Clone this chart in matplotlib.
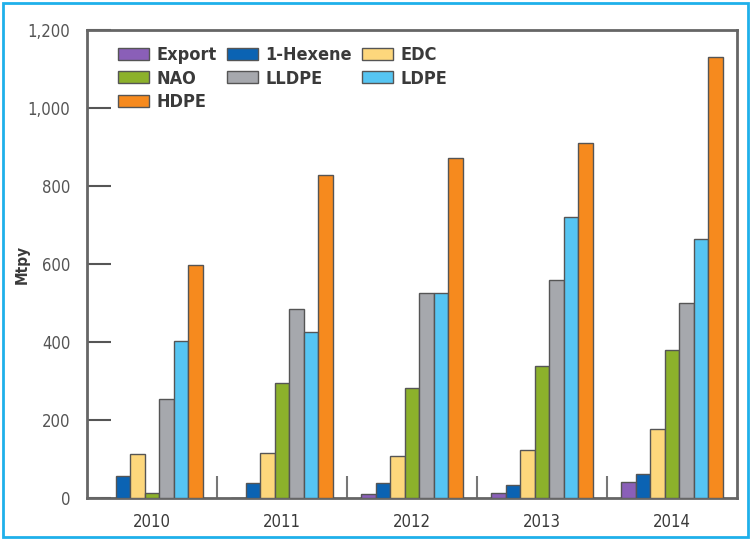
import matplotlib
matplotlib.use("Agg")
import matplotlib.pyplot as plt
from matplotlib.patches import Rectangle
import numpy as np

plt.rcParams['font.family'] = ['DejaVu Sans']
plt.rcParams['font.stretch'] = 'condensed'

years = ["2010", "2011", "2012", "2013", "2014"]
export = [0, 0, 10, 12, 41]
hexene = [56, 39, 39, 34, 62]
edc = [113, 115, 108, 123, 177]
nao = [12, 296, 283, 339, 380]
lldpe = [255, 484, 525, 558, 500]
ldpe = [403, 425, 525, 721, 665]
hdpe = [598, 828, 871, 911, 1132]

series = [
    ("Export", export, "#8a5fb8"),
    ("1-Hexene", hexene, "#0b63b3"),
    ("EDC", edc, "#fdd77c"),
    ("NAO", nao, "#8cb12b"),
    ("LLDPE", lldpe, "#a6a8ad"),
    ("LDPE", ldpe, "#56c5f2"),
    ("HDPE", hdpe, "#f68a1e"),
]

txt = "#3a3a3a"
fig = plt.figure(figsize=(7.51, 5.40), dpi=100)
ax = fig.add_axes([87 / 751, 1 - 498 / 540, 650 / 751, 468 / 540])

x = np.arange(len(years))
w = 0.111
bars = {}
for j, (name, vals, col) in enumerate(series):
    bars[name] = ax.bar(x + (j - 3) * w, vals, w, color=col, edgecolor="#555555",
                        linewidth=1.0, label=name, zorder=3)

ax.set_xlim(-0.5, 4.5)
ax.set_ylim(0, 1200)
ax.set_yticks(range(0, 1201, 200))
ax.set_yticklabels(["0", "200", "400", "600", "800", "1,000", "1,200"])
ax.set_xticks(x)
ax.set_xticklabels(years)
ax.set_xticks(np.arange(0.5, 4.0, 1.0), minor=True)
ax.tick_params(axis="x", which="major", length=0, pad=11, labelsize=12, labelcolor=txt)
ax.tick_params(axis="x", which="minor", direction="in", length=16, width=1.5, color="#777777")
ax.tick_params(axis="y", direction="in", length=17, width=1.5, color="#555555",
               pad=12, labelsize=12, labelcolor="#555555")
for s in ax.spines.values():
    s.set_color("#666666")
    s.set_linewidth(2)
ax.set_ylabel("Mtpy", fontsize=11, fontweight="bold", color=txt)
ax.yaxis.set_label_coords(-0.088, 0.5)

order = ["Export", "NAO", "HDPE", "1-Hexene", "LLDPE", "EDC", "LDPE"]
leg = ax.legend([bars[n] for n in order], order, ncol=3, loc="upper left",
                bbox_to_anchor=(0.048, 0.966), frameon=False, fontsize=13,
                handlelength=1.7, handleheight=0.65, columnspacing=0.6,
                labelspacing=0.32, handletextpad=0.4, borderaxespad=0, borderpad=0)
for t in leg.get_texts():
    t.set_color(txt)
    t.set_fontweight("bold")

fig.patches.append(Rectangle((0.004, 0.006), 0.992, 0.988, transform=fig.transFigure,
                             fill=False, edgecolor="#1fb0ea", linewidth=2))

fig.savefig("out.png", dpi=100)
